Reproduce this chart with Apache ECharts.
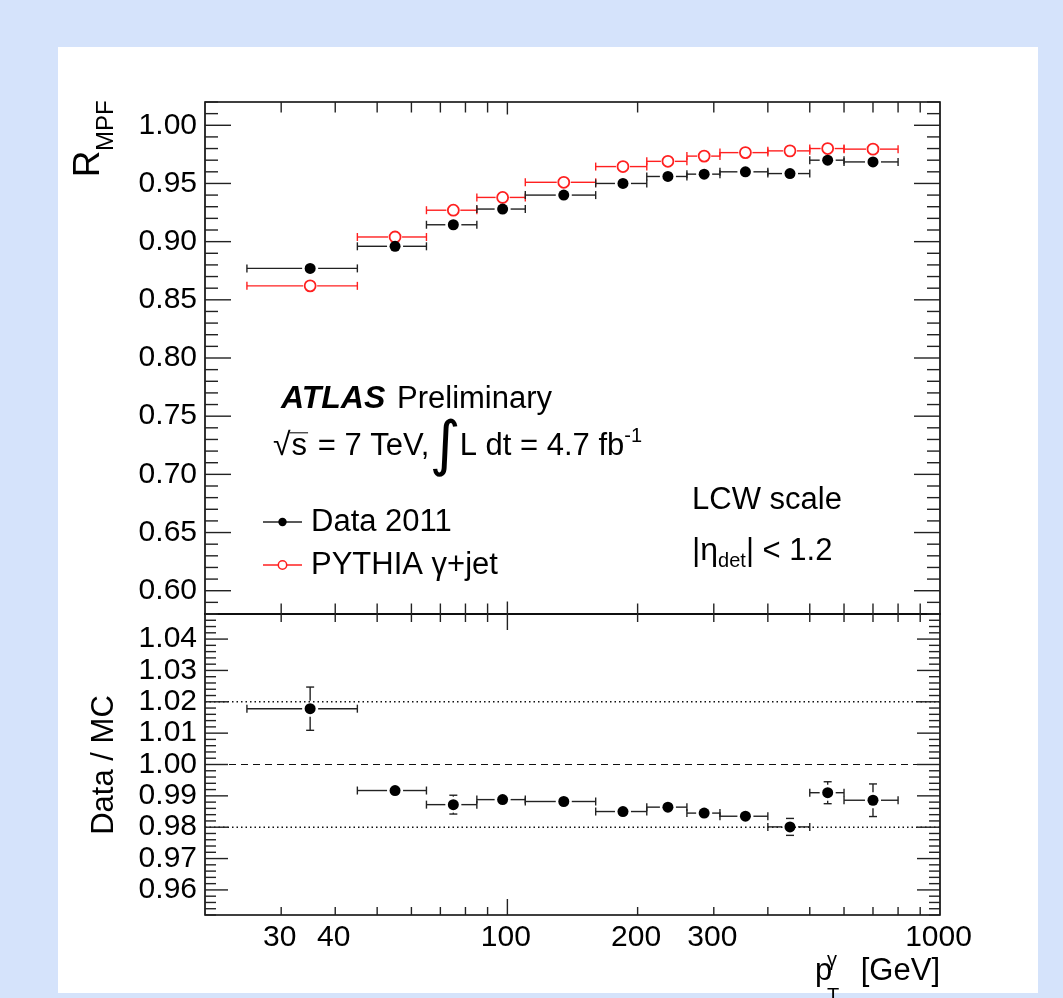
<!DOCTYPE html>
<html>
<head>
<meta charset="utf-8">
<script src="https://cdn.jsdelivr.net/npm/echarts@6/dist/echarts.min.js"></script>
<style>
  html, body { margin: 0; padding: 0; background: #d5e3fb; }
  #chart { width: 1063px; height: 998px; }
</style>
</head>
<body>
<div id="chart"></div>
<script>
// Photon pT bins [GeV]
const binLow    = [25, 45, 65, 85, 110, 160, 210, 260, 310, 400, 500, 600];
const binHigh   = [45, 65, 85, 110, 160, 210, 260, 310, 400, 500, 600, 800];
const binCenter = [35, 55, 75, 97.5, 135, 185, 235, 285, 355, 450, 550, 700];

// MPF response, data 2011 and PYTHIA gamma+jet
const rmpfData = [0.877, 0.896, 0.9145, 0.928, 0.940, 0.950, 0.956, 0.958, 0.960, 0.9585, 0.970, 0.9685];
const rmpfMC   = [0.862, 0.904, 0.927, 0.938, 0.951, 0.9645, 0.969, 0.9735, 0.9765, 0.978, 0.980, 0.9795];

// Data / MC ratio with statistical uncertainty
const ratio    = [1.0178, 0.9917, 0.9872, 0.9888, 0.9882, 0.9850, 0.9864, 0.9845, 0.9835, 0.9801, 0.9910, 0.9886];
const ratioErr = [0.0069, 0.0010, 0.0030, 0.0010, 0.0010, 0.0010, 0.0010, 0.0010, 0.0010, 0.0027, 0.0035, 0.0052];

// Axis ranges and labels
const xMin = 20, xMax = 1000;
const topYMin = 0.58, topYMax = 1.02;
const botYMin = 0.952, botYMax = 1.048;
const xTickValues = [30, 40, 50, 60, 70, 80, 90, 100, 200, 300, 400, 500, 600, 700, 800, 900];
const xMajorTickValues = [100];
const xTickLabels = ['30', '40', '100', '200', '300', '1000'];
const topYLabels = ['0.60', '0.65', '0.70', '0.75', '0.80', '0.85', '0.90', '0.95', '1.00'];
const botYLabels = ['0.96', '0.97', '0.98', '0.99', '1.00', '1.01', '1.02', '1.03', '1.04'];
const ratioRefLines = [1.02, 1.00, 0.98];

const FONT = '"Liberation Sans", Arial, Helvetica, sans-serif';
const SYMBOL_FONT = '"DejaVu Sans", sans-serif';
const BLACK = '#000';
const LINE = '#222';
const RED = '#ff2020';

// y ticks every `step`, long ones every `majorEvery` steps
function yTicks(lo, hi, step, majorEvery) {
  const out = [];
  const k0 = Math.round(lo / step), k1 = Math.round(hi / step);
  for (let k = k0; k <= k1; k++) out.push([xMin, k * step, k % majorEvery === 0 ? 1 : 0]);
  return out;
}
function xTicks(yv) {
  return xTickValues.map(v => [v, yv, xMajorTickValues.indexOf(v) >= 0 ? 3 : 2]);
}

// ticks on all four sides of a panel
function tickRenderer(len) {
  return function (params, api) {
    const cs = params.coordSys;
    const kind = api.value(2);
    const st = { stroke: LINE, lineWidth: 1.4 };
    if (kind < 2) {
      const y = api.coord([xMin, api.value(1)])[1];
      const l = kind === 1 ? len.yMajor : len.yMinor;
      return { type: 'group', children: [
        { type: 'line', shape: { x1: cs.x, y1: y, x2: cs.x + l, y2: y }, style: st },
        { type: 'line', shape: { x1: cs.x + cs.width, y1: y, x2: cs.x + cs.width - l, y2: y }, style: st }
      ] };
    }
    const x = api.coord([api.value(0), api.value(1)])[0];
    const l = kind === 3 ? len.xMajor : len.xMinor;
    return { type: 'group', children: [
      { type: 'line', shape: { x1: x, y1: cs.y, x2: x, y2: cs.y + l }, style: st },
      { type: 'line', shape: { x1: x, y1: cs.y + cs.height, x2: x, y2: cs.y + cs.height - l }, style: st }
    ] };
  };
}

function yLabelRenderer(labels) {
  return function (params, api) {
    const cs = params.coordSys;
    const y = api.coord([xMin, api.value(1)])[1];
    return { type: 'text', x: cs.x - 8, y: y,
      style: { text: labels[params.dataIndex], fontSize: 30, fontFamily: FONT, fill: BLACK,
               align: 'right', verticalAlign: 'middle' } };
  };
}

// horizontal bin-width bars and vertical error bars, opened around the marker
function errorBarRenderer(color, gap) {
  return function (params, api) {
    const yv = api.value(1);
    const c = api.coord([api.value(0), yv]);
    const lo = api.coord([api.value(2), yv]);
    const hi = api.coord([api.value(3), yv]);
    const err = api.value(4);
    const st = { stroke: color, lineWidth: 1.4 };
    const cap = 4;
    const ch = [
      { type: 'line', shape: { x1: lo[0], y1: c[1], x2: c[0] - gap, y2: c[1] }, style: st },
      { type: 'line', shape: { x1: c[0] + gap, y1: c[1], x2: hi[0], y2: c[1] }, style: st },
      { type: 'line', shape: { x1: lo[0], y1: c[1] - cap, x2: lo[0], y2: c[1] + cap }, style: st },
      { type: 'line', shape: { x1: hi[0], y1: c[1] - cap, x2: hi[0], y2: c[1] + cap }, style: st }
    ];
    if (err > 0) {
      const yt = api.coord([api.value(0), yv + err])[1];
      const yb = api.coord([api.value(0), yv - err])[1];
      if (c[1] - yt > 5) {
        ch.push({ type: 'line', shape: { x1: c[0] - cap, y1: yt, x2: c[0] + cap, y2: yt }, style: st });
        ch.push({ type: 'line', shape: { x1: c[0] - cap, y1: yb, x2: c[0] + cap, y2: yb }, style: st });
        if (c[1] - yt > gap) {
          ch.push({ type: 'line', shape: { x1: c[0], y1: yt, x2: c[0], y2: c[1] - gap }, style: st });
          ch.push({ type: 'line', shape: { x1: c[0], y1: c[1] + gap, x2: c[0], y2: yb }, style: st });
        }
      }
    }
    return { type: 'group', children: ch };
  };
}

// chained text runs on a common baseline (for sub/superscripts)
const measureCtx = document.createElement('canvas').getContext('2d');
function textRuns(x0, baseline, parts) {
  let x = x0;
  const out = [];
  parts.forEach(p => {
    const fs = p.fs || 31;
    const family = p.family || FONT;
    const weight = p.bold ? 'bold' : 'normal';
    const style = p.italic ? 'italic' : 'normal';
    measureCtx.font = style + ' ' + weight + ' ' + fs + 'px ' + family;
    const w = measureCtx.measureText(p.t).width;
    const xs = x + (p.dx || 0);
    const base = baseline + (p.dy || 0);
    out.push({ type: 'text', x: xs, y: base - 0.35 * fs, z: 100, silent: true,
      style: { text: p.t, fontSize: fs, fontFamily: family, fontWeight: weight, fontStyle: style,
               fill: p.color || BLACK, align: 'left', verticalAlign: 'middle' } });
    if (p.overline) {
      out.push({ type: 'line', z: 100, silent: true,
        shape: { x1: xs - 2, y1: base - 0.78 * fs, x2: xs + w + 1, y2: base - 0.78 * fs },
        style: { stroke: BLACK, lineWidth: 1 } });
    }
    x = xs + w + (p.after || 0);
  });
  return out;
}

const graphics = [
  { type: 'rect', z: -100, silent: true, shape: { x: 58, y: 47, width: 980, height: 946 }, style: { fill: '#fff' } },
  ...textRuns(281, 410, [{ t: 'ATLAS', bold: true, italic: true, fs: 32 }]),
  ...textRuns(397, 410, [{ t: 'Preliminary' }]),
  ...textRuns(273, 457, [
    { t: '\u221A', fs: 32 }, { t: 's', overline: true, dx: 1 }, { t: ' = 7 TeV,', dx: 2 },
    { t: '\u222B', fs: 60, dy: 12, dx: 0, family: SYMBOL_FONT, after: -4 },
    { t: 'L dt = 4.7 fb', dx: 3 }, { t: '-1', fs: 20, dy: -14 }
  ]),
  // legend
  { type: 'line', z: 100, silent: true, shape: { x1: 263, y1: 522, x2: 302, y2: 522 }, style: { stroke: LINE, lineWidth: 1.3 } },
  { type: 'circle', z: 101, silent: true, shape: { cx: 282.5, cy: 522, r: 4.2 }, style: { fill: BLACK } },
  ...textRuns(311, 533, [{ t: 'Data 2011' }]),
  { type: 'line', z: 100, silent: true, shape: { x1: 263, y1: 565, x2: 302, y2: 565 }, style: { stroke: RED, lineWidth: 1.3 } },
  { type: 'circle', z: 101, silent: true, shape: { cx: 282.5, cy: 565, r: 4.2 }, style: { fill: '#fff', stroke: RED, lineWidth: 1.5 } },
  ...textRuns(311, 576, [{ t: 'PYTHIA \u03B3+jet' }]),
  ...textRuns(692, 511, [{ t: 'LCW scale' }]),
  ...textRuns(692, 562, [{ t: '|\u03B7', fs: 32 }, { t: 'det', fs: 20, dy: 6 }, { t: '| < 1.2' }]),
  // axis titles
  { type: 'text', z: 100, silent: true, x: 89, y: 164, rotation: Math.PI / 2,
    style: { text: 'R', fontSize: 37, fontFamily: FONT, fill: BLACK, align: 'center', verticalAlign: 'middle' } },
  { type: 'text', z: 100, silent: true, x: 106, y: 151, rotation: Math.PI / 2,
    style: { text: 'MPF', fontSize: 24, fontFamily: FONT, fill: BLACK, align: 'left', verticalAlign: 'middle' } },
  { type: 'text', z: 100, silent: true, x: 104, y: 765, rotation: Math.PI / 2,
    style: { text: 'Data / MC', fontSize: 31, fontFamily: FONT, fill: BLACK, align: 'center', verticalAlign: 'middle' } },
  ...textRuns(815, 982, [{ t: 'p' }]),
  ...textRuns(827, 967, [{ t: '\u03B3', fs: 20 }]),
  ...textRuns(827, 1003, [{ t: 'T', fs: 20 }]),
  { type: 'text', z: 100, silent: true, x: 940, y: 982 - 0.35 * 31,
    style: { text: '[GeV]', fontSize: 31, fontFamily: FONT, fill: BLACK, align: 'right', verticalAlign: 'middle' } }
];

const gridBox = { show: true, borderColor: BLACK, borderWidth: 1.6, backgroundColor: 'transparent' };

const option = {
  backgroundColor: '#d5e3fb',
  animation: false,
  textStyle: { fontFamily: FONT },
  grid: [
    Object.assign({ left: 205, top: 102, width: 735, height: 512 }, gridBox),
    Object.assign({ left: 205, top: 614, width: 735, height: 301 }, gridBox)
  ],
  xAxis: [
    { type: 'log', logBase: 10, min: xMin, max: xMax, gridIndex: 0, show: false },
    { type: 'log', logBase: 10, min: xMin, max: xMax, gridIndex: 1, show: false }
  ],
  yAxis: [
    { type: 'value', min: topYMin, max: topYMax, gridIndex: 0, show: false, splitLine: { show: false } },
    { type: 'value', min: botYMin, max: botYMax, gridIndex: 1, show: false, splitLine: { show: false } }
  ],
  graphic: { elements: graphics },
  series: [
    // reference lines in the ratio panel
    { type: 'custom', xAxisIndex: 1, yAxisIndex: 1, silent: true, z: 1,
      data: ratioRefLines.map(v => [xMin, v]),
      renderItem: function (params, api) {
        const cs = params.coordSys;
        const v = api.value(1);
        const y = api.coord([xMin, v])[1];
        const dashed = Math.abs(v - 1) < 1e-9;
        return { type: 'line', shape: { x1: cs.x, y1: y, x2: cs.x + cs.width, y2: y },
          style: { stroke: '#111', lineWidth: dashed ? 1.2 : 1.5, lineDash: dashed ? [7, 5] : [1.5, 3] } };
      } },
    // ticks
    { type: 'custom', xAxisIndex: 0, yAxisIndex: 0, silent: true, z: 2,
      data: yTicks(topYMin, topYMax, 0.01, 5).concat(xTicks(topYMin)),
      renderItem: tickRenderer({ yMajor: 26, yMinor: 13, xMajor: 12.5, xMinor: 10.5 }) },
    { type: 'custom', xAxisIndex: 1, yAxisIndex: 1, silent: true, z: 2,
      data: yTicks(botYMin, botYMax, 0.002, 5).concat(xTicks(botYMin)),
      renderItem: tickRenderer({ yMajor: 23, yMinor: 11, xMajor: 16, xMinor: 8 }) },
    // tick labels
    { type: 'custom', xAxisIndex: 0, yAxisIndex: 0, silent: true, z: 2,
      data: topYLabels.map(s => [xMin, Number(s)]), renderItem: yLabelRenderer(topYLabels) },
    { type: 'custom', xAxisIndex: 1, yAxisIndex: 1, silent: true, z: 2,
      data: botYLabels.map(s => [xMin, Number(s)]), renderItem: yLabelRenderer(botYLabels) },
    { type: 'custom', xAxisIndex: 1, yAxisIndex: 1, silent: true, z: 2,
      data: xTickLabels.map(s => [Number(s), botYMin]),
      renderItem: function (params, api) {
        const cs = params.coordSys;
        const x = api.coord([api.value(0), api.value(1)])[0];
        return { type: 'text', x: x - 1.5, y: cs.y + cs.height + 22.5,
          style: { text: xTickLabels[params.dataIndex], fontSize: 30, fontFamily: FONT, fill: BLACK,
                   align: 'center', verticalAlign: 'middle' } };
      } },
    // PYTHIA gamma+jet
    { type: 'custom', xAxisIndex: 0, yAxisIndex: 0, silent: true, z: 3,
      data: binCenter.map((c, i) => [c, rmpfMC[i], binLow[i], binHigh[i], 0]),
      renderItem: errorBarRenderer(RED, 7) },
    { type: 'scatter', xAxisIndex: 0, yAxisIndex: 0, silent: true, z: 4,
      data: binCenter.map((c, i) => [c, rmpfMC[i]]),
      symbol: 'circle', symbolSize: 11,
      itemStyle: { color: '#fff', borderColor: RED, borderWidth: 1.8, opacity: 1 } },
    // Data 2011
    { type: 'custom', xAxisIndex: 0, yAxisIndex: 0, silent: true, z: 5,
      data: binCenter.map((c, i) => [c, rmpfData[i], binLow[i], binHigh[i], 0]),
      renderItem: errorBarRenderer(LINE, 8) },
    { type: 'scatter', xAxisIndex: 0, yAxisIndex: 0, silent: true, z: 6,
      data: binCenter.map((c, i) => [c, rmpfData[i]]),
      symbol: 'circle', symbolSize: 11, itemStyle: { color: BLACK, opacity: 1 } },
    // Data / MC
    { type: 'custom', xAxisIndex: 1, yAxisIndex: 1, silent: true, z: 5,
      data: binCenter.map((c, i) => [c, ratio[i], binLow[i], binHigh[i], ratioErr[i]]),
      renderItem: errorBarRenderer(LINE, 8) },
    { type: 'scatter', xAxisIndex: 1, yAxisIndex: 1, silent: true, z: 6,
      data: binCenter.map((c, i) => [c, ratio[i]]),
      symbol: 'circle', symbolSize: 11, itemStyle: { color: BLACK, opacity: 1 } }
  ]
};

const chart = echarts.init(document.getElementById('chart'), null, { renderer: 'canvas', width: 1063, height: 998 });
chart.setOption(option);
</script>
</body>
</html>
